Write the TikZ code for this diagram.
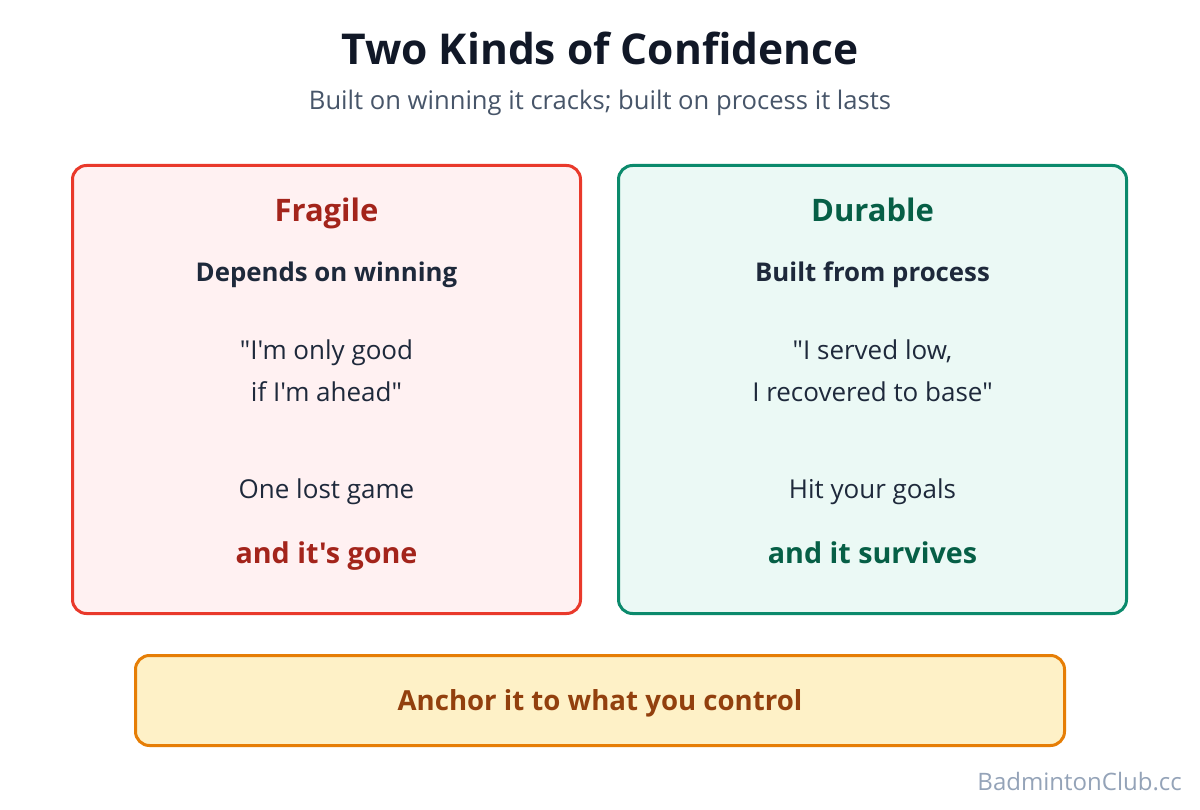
\documentclass[tikz,border=0pt]{standalone}
\usepackage{fontspec}
\setmainfont{Open Sans}[Ligatures=TeXOff]
\usepackage{xcolor}
\usepackage{tikz}
\definecolor{InkDark}{HTML}{111827}
\definecolor{InkBody}{HTML}{1E293B}
\definecolor{InkSub}{HTML}{475569}
\definecolor{InkMark}{HTML}{94A3B8}
\definecolor{FragEdge}{HTML}{E9392B}
\definecolor{FragFill}{HTML}{FFF1F2}
\definecolor{FragText}{HTML}{A3241B}
\definecolor{DurEdge}{HTML}{0B8A6C}
\definecolor{DurFill}{HTML}{EBF9F5}
\definecolor{DurText}{HTML}{065F46}
\definecolor{AnchEdge}{HTML}{E67E06}
\definecolor{AnchFill}{HTML}{FEF1C7}
\definecolor{AnchText}{HTML}{92400E}
\newcommand{\pxfont}[1]{\fontsize{#1}{#1}\selectfont}
\tikzset{
  panel/.style={rounded corners=14pt,line width=3pt,minimum width=508pt,minimum height=448pt,inner sep=0pt},
  anchorbar/.style={rounded corners=14pt,line width=3pt,minimum width=929pt,minimum height=90pt,inner sep=0pt},
  txt/.style={anchor=base,inner sep=0pt,text=InkBody,font=\pxfont{26}},
  boldtxt/.style={txt,font=\pxfont{25.8}\bfseries},
  headtxt/.style={anchor=base,inner sep=0pt,font=\pxfont{31}\bfseries}
}

\begin{document}
\begin{tikzpicture}[x=1pt,y=-1pt]
\useasboundingbox[fill=white] (0,0) rectangle (1200,810);
% heading
\node[anchor=base,inner sep=0pt,text=InkDark,font=\pxfont{42.5}\bfseries] (title) at (600,65) {Two Kinds of Confidence};
\node[txt,font=\pxfont{25.6},text=InkSub] (subtitle) at (600,110) {Built on winning it cracks; built on process it lasts};
% fragile panel
\node[panel,draw=FragEdge,fill=FragFill] (fragile) at (326.5,389.5) {};
\node[headtxt,text=FragText] (fragilehead) at (326.5,222) {Fragile};
\node[boldtxt] (fragilesub) at (326.5,282) {Depends on winning};
\node[txt] (fragileq1) at (326.5,360) {"I'm only good};
\node[txt] (fragileq2) at (326.5,401) {if I'm ahead"};
\node[txt] (fragilelost) at (326.5,498) {One lost game};
\node[headtxt,font=\pxfont{28.7}\bfseries,text=FragText] (fragileend) at (326.5,563) {and it's gone};
% durable panel
\node[panel,draw=DurEdge,fill=DurFill] (durable) at (872.5,389.5) {};
\node[headtxt,text=DurText] (durablehead) at (872.5,222) {Durable};
\node[boldtxt] (durablesub) at (872.5,282) {Built from process};
\node[txt] (durableq1) at (872.5,360) {"I served low,};
\node[txt] (durableq2) at (872.5,401) {I recovered to base"};
\node[txt] (durablegoal) at (872.5,498) {Hit your goals};
\node[headtxt,font=\pxfont{28.7}\bfseries,text=DurText] (durableend) at (872.5,563) {and it survives};
% anchor bar
\node[anchorbar,draw=AnchEdge,fill=AnchFill] (anchorbox) at (600,700.5) {};
\node[headtxt,font=\pxfont{27.6}\bfseries,text=AnchText] (anchortext) at (600,710) {Anchor it to what you control};
\node[anchor=base east,inner sep=0pt,text=InkMark,font=\pxfont{24}] (mark) at (1182,790) {BadmintonClub.cc};
\end{tikzpicture}
\end{document}
